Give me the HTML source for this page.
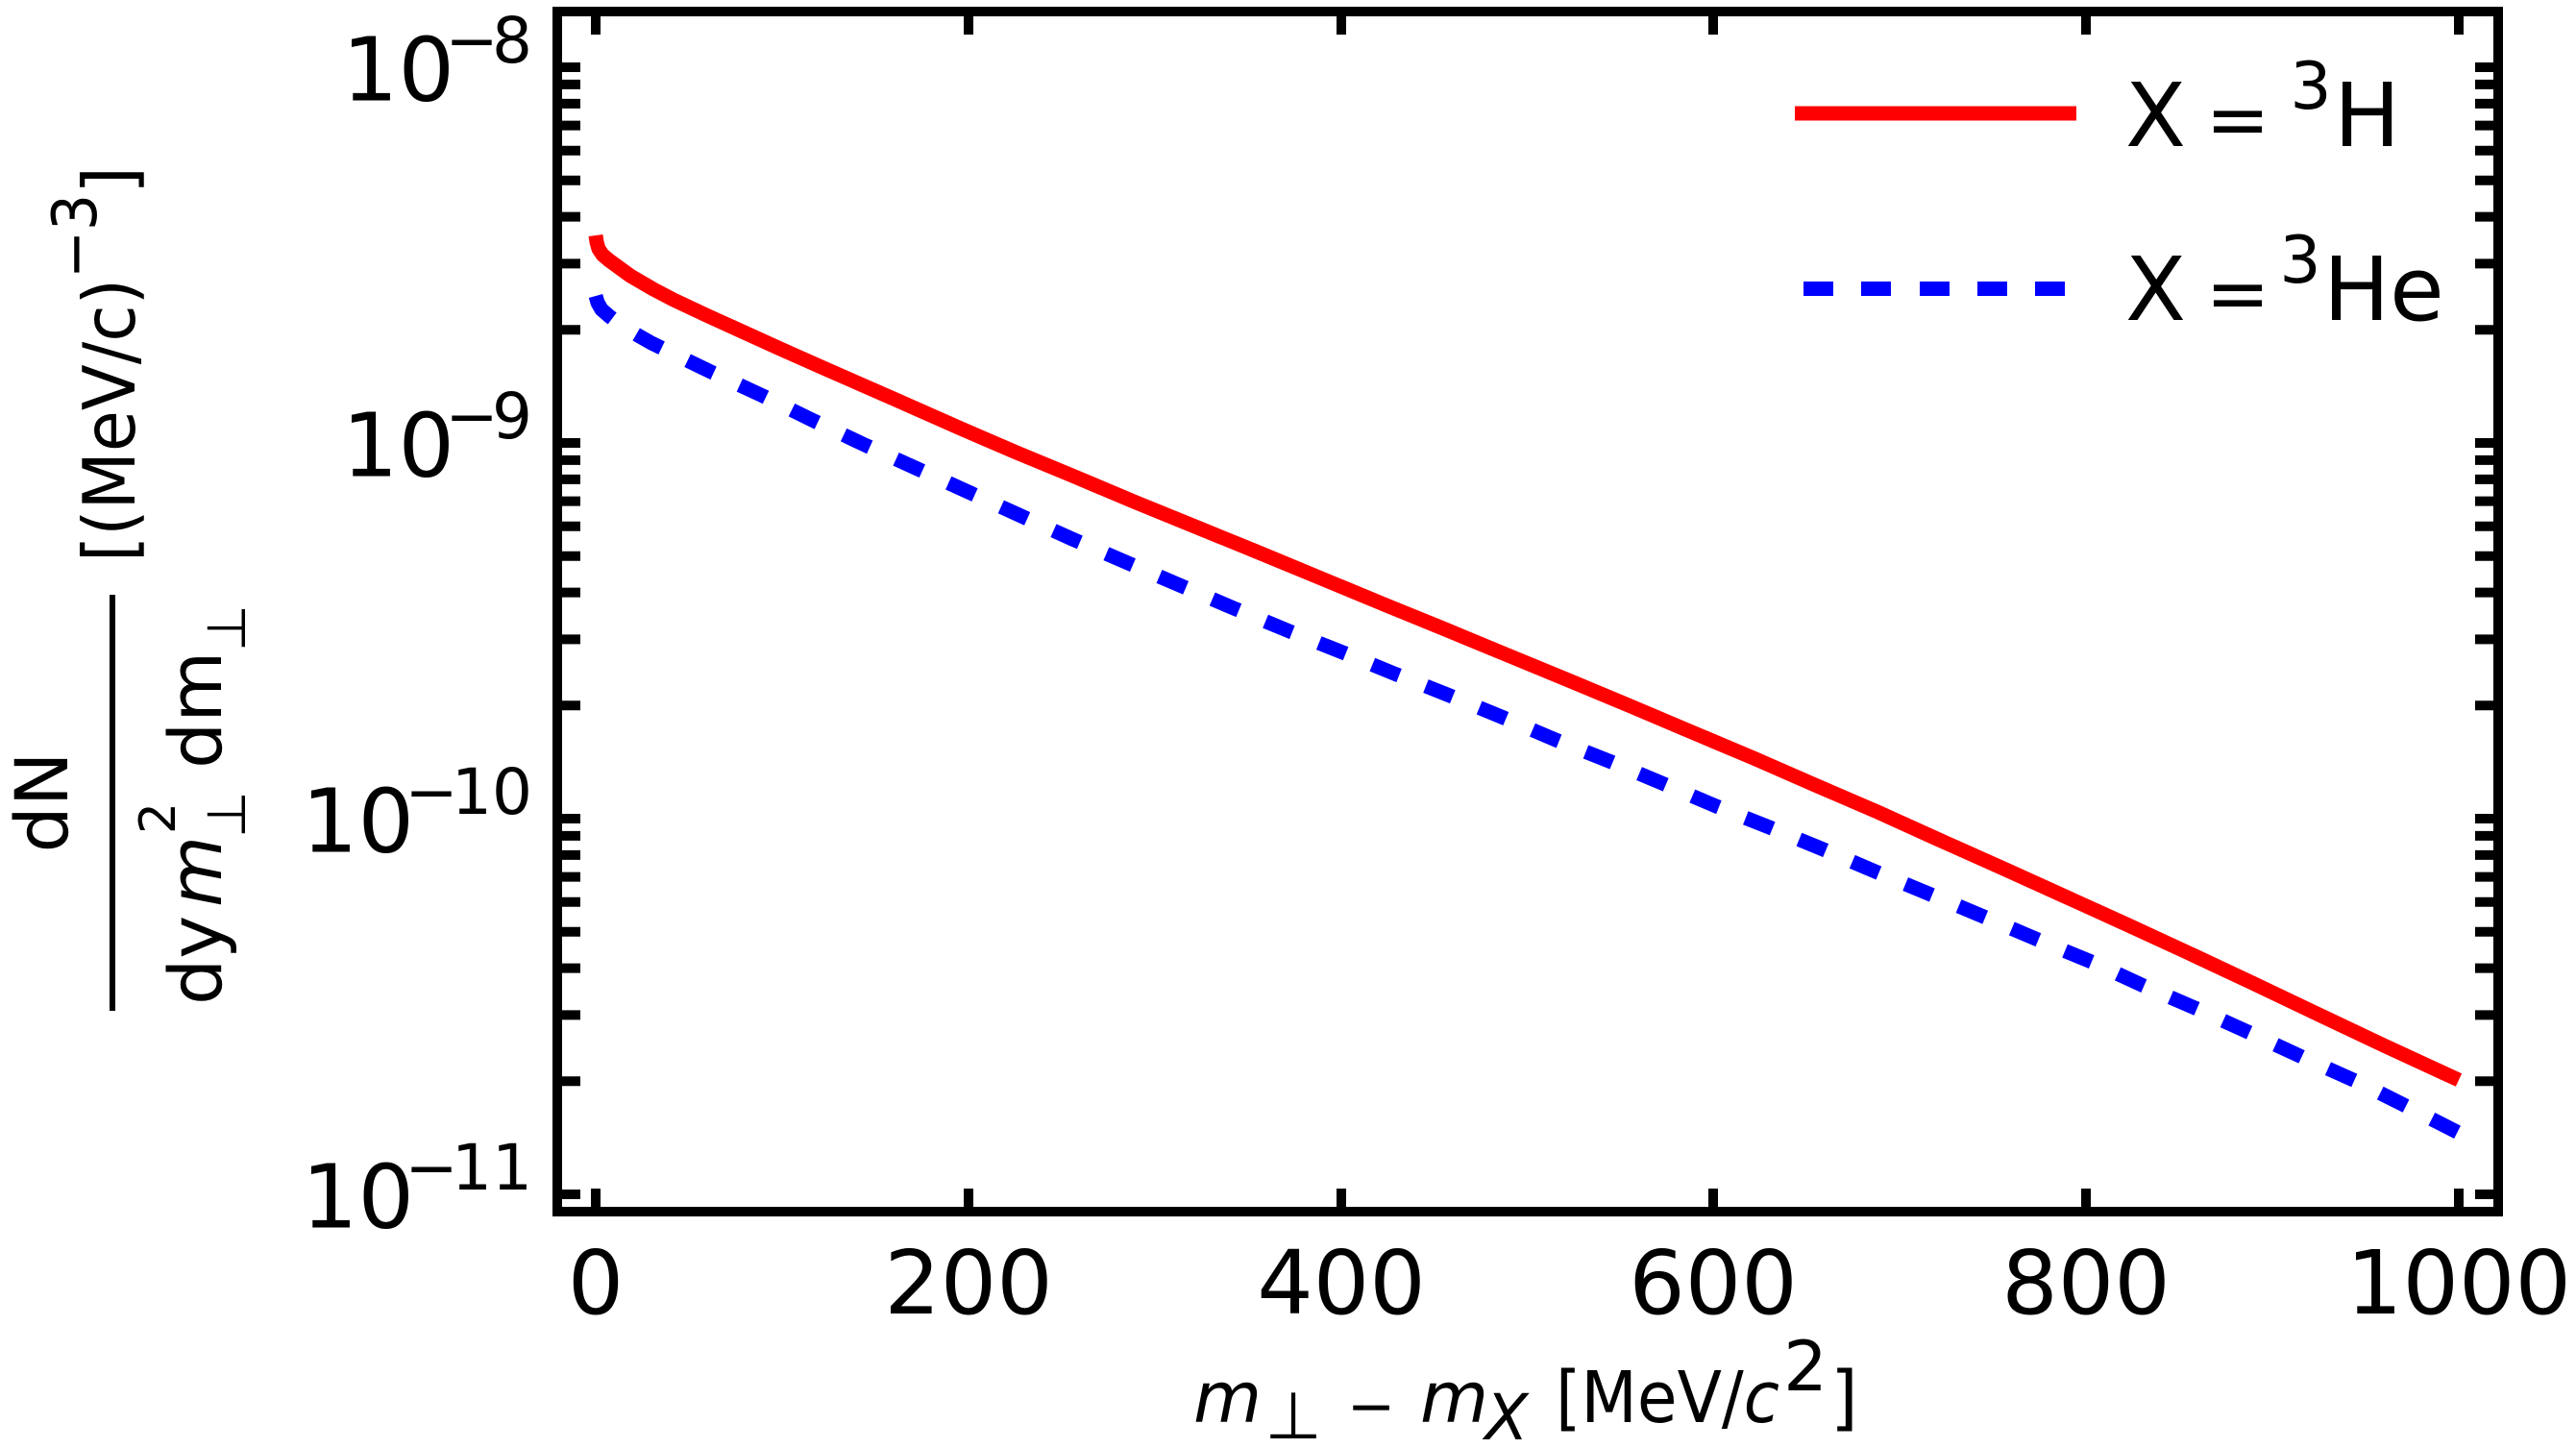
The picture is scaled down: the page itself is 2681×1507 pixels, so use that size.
<!DOCTYPE html>
<html>
<head>
<meta charset="utf-8">
<style>
  html, body { margin: 0; padding: 0; background: #ffffff; }
  svg { display: block; }
  text { font-family: "DejaVu Sans", "Liberation Sans", sans-serif; fill: #000; }
</style>
</head>
<body>
<svg width="2681" height="1507" viewBox="0 0 2681 1507" xmlns="http://www.w3.org/2000/svg">
  <rect x="0" y="0" width="2681" height="1507" fill="#ffffff"/>

  <!-- Data curves -->
  <polyline fill="none" stroke="#ff0000" stroke-width="15" stroke-linejoin="round" stroke-linecap="butt"
    points="620,245 621,252 623,259 627,265 634,271 645,279 656,287 680,301 701,312 735,328 768,343 812,363 857,383 930,415 1000,446 1058,471 1116,495 1180,522 1245,548.5 1310,575 1374,601.5 1438,628 1503,654.5 1567,681 1632,707.8 1696,734.5 1760,761.6 1825,789 1889,817 1954,845 2018,874 2083,903 2147,932 2212,961.5 2276,991 2341,1021.5 2405,1052 2482,1088.5 2559,1124"/>
  <polyline fill="none" stroke="#0000ff" stroke-width="15" stroke-linejoin="round" stroke-linecap="butt" stroke-dasharray="30 30"
    points="620,308 622,315 626,322 634,329 650,341 678,357 742,388 794,412 845,437 900,463 955,488 1010,513 1065,538 1116,561 1174,586 1230,610 1284,633 1342,657 1400,680 1451,701 1509,724 1565,747 1619,770 1677,793 1732,816 1786,839 1844,862 1900,885 1954,908 2012,932 2067,955 2121,978 2179,1002 2231,1026 2289,1051 2344,1076 2398,1101 2456,1127 2508,1153 2559,1179"/>

  <!-- Ticks -->
  <g stroke="#000" stroke-width="10" stroke-linecap="butt">
    <line x1="620" y1="1261" x2="620" y2="1237"/>
    <line x1="1008" y1="1261" x2="1008" y2="1237"/>
    <line x1="1396" y1="1261" x2="1396" y2="1237"/>
    <line x1="1783" y1="1261" x2="1783" y2="1237"/>
    <line x1="2171" y1="1261" x2="2171" y2="1237"/>
    <line x1="2559" y1="1261" x2="2559" y2="1237"/>
    <line x1="620" y1="12" x2="620" y2="36"/>
    <line x1="1008" y1="12" x2="1008" y2="36"/>
    <line x1="1396" y1="12" x2="1396" y2="36"/>
    <line x1="1783" y1="12" x2="1783" y2="36"/>
    <line x1="2171" y1="12" x2="2171" y2="36"/>
    <line x1="2559" y1="12" x2="2559" y2="36"/>
  </g>
  <g id="yt" stroke="#000" stroke-width="10" stroke-linecap="butt">
    <line x1="580" y1="70" x2="604" y2="70"/>
    <line x1="580" y1="87.9" x2="604" y2="87.9"/>
    <line x1="580" y1="107.9" x2="604" y2="107.9"/>
    <line x1="580" y1="130.6" x2="604" y2="130.6"/>
    <line x1="580" y1="156.8" x2="604" y2="156.8"/>
    <line x1="580" y1="187.7" x2="604" y2="187.7"/>
    <line x1="580" y1="225.6" x2="604" y2="225.6"/>
    <line x1="580" y1="274.4" x2="604" y2="274.4"/>
    <line x1="580" y1="343.3" x2="604" y2="343.3"/>
    <line x1="580" y1="461" x2="604" y2="461"/>
    <line x1="580" y1="478.9" x2="604" y2="478.9"/>
    <line x1="580" y1="498.9" x2="604" y2="498.9"/>
    <line x1="580" y1="521.6" x2="604" y2="521.6"/>
    <line x1="580" y1="547.8" x2="604" y2="547.8"/>
    <line x1="580" y1="578.7" x2="604" y2="578.7"/>
    <line x1="580" y1="616.6" x2="604" y2="616.6"/>
    <line x1="580" y1="665.4" x2="604" y2="665.4"/>
    <line x1="580" y1="734.3" x2="604" y2="734.3"/>
    <line x1="580" y1="852" x2="604" y2="852"/>
    <line x1="580" y1="869.9" x2="604" y2="869.9"/>
    <line x1="580" y1="889.9" x2="604" y2="889.9"/>
    <line x1="580" y1="912.6" x2="604" y2="912.6"/>
    <line x1="580" y1="938.8" x2="604" y2="938.8"/>
    <line x1="580" y1="969.7" x2="604" y2="969.7"/>
    <line x1="580" y1="1007.6" x2="604" y2="1007.6"/>
    <line x1="580" y1="1056.4" x2="604" y2="1056.4"/>
    <line x1="580" y1="1125.3" x2="604" y2="1125.3"/>
    <line x1="580" y1="1243" x2="604" y2="1243"/>
  </g>
  <use href="#yt" transform="translate(3180,0) scale(-1,1)"/>

  <!-- Spines -->
  <rect x="580" y="12" width="2020" height="1249" fill="none" stroke="#000" stroke-width="10"/>

  <!-- X tick labels -->
  <g font-size="92" text-anchor="middle">
    <text x="620" y="1367">0</text>
    <text x="1008" y="1367">200</text>
    <text x="1396" y="1367">400</text>
    <text x="1783" y="1367">600</text>
    <text x="2171" y="1367">800</text>
    <text x="2559" y="1367">1000</text>
  </g>

  <!-- Y tick labels -->
  <g>
    <text x="473" y="104.5" font-size="92" text-anchor="end">10</text>
    <text x="491" y="65" font-size="66" text-anchor="middle">−</text>
    <text x="554" y="65" font-size="66" text-anchor="end">8</text>

    <text x="473" y="495.5" font-size="92" text-anchor="end">10</text>
    <text x="491" y="456" font-size="66" text-anchor="middle">−</text>
    <text x="554" y="456" font-size="66" text-anchor="end">9</text>

    <text x="431" y="886.5" font-size="92" text-anchor="end">10</text>
    <text x="449" y="847" font-size="66" text-anchor="middle">−</text>
    <text x="554" y="847" font-size="66" text-anchor="end">10</text>

    <text x="431" y="1277.5" font-size="92" text-anchor="end">10</text>
    <text x="449" y="1238" font-size="66" text-anchor="middle">−</text>
    <text x="554" y="1238" font-size="66" text-anchor="end">11</text>
  </g>

  <!-- Legend -->
  <line x1="1868" y1="118" x2="2161" y2="118" stroke="#ff0000" stroke-width="15"/>
  <g fill="#0000ff">
    <rect x="1877" y="293" width="31" height="15"/>
    <rect x="1937" y="293" width="31" height="15"/>
    <rect x="1998" y="293" width="31" height="15"/>
    <rect x="2058" y="293" width="31" height="15"/>
    <rect x="2118" y="293" width="31" height="15"/>
  </g>
  <text x="2212" y="152" font-size="92">X</text>
  <text x="2329" y="152" font-size="80" text-anchor="middle">=</text>
  <text x="2405" y="113" font-size="68" text-anchor="middle">3</text>
  <text x="2429" y="152" font-size="92">H</text>

  <text x="2212" y="333" font-size="92">X</text>
  <text x="2329" y="333" font-size="80" text-anchor="middle">=</text>
  <text x="2394" y="294" font-size="68" text-anchor="middle">3</text>
  <text x="2418" y="333" font-size="92">He</text>

  <!-- X axis label -->
  <text x="1242" y="1480" font-size="73" font-style="italic">m</text>
  <text x="1346" y="1497" font-size="68" text-anchor="middle">⊥</text>
  <text x="1427" y="1484" font-size="60" text-anchor="middle">−</text>
  <text x="1478" y="1480" font-size="73" font-style="italic">m</text>
  <text x="1568" y="1498" font-size="66" font-style="italic" text-anchor="middle">X</text>
  <text x="1619" y="1480" font-size="74" textLength="233" lengthAdjust="spacingAndGlyphs">[MeV/<tspan font-style="italic">c</tspan></text>
  <text x="1879" y="1447" font-size="72" text-anchor="middle">2</text>
  <text x="1905" y="1480" font-size="74">]</text>

  <!-- Y axis label -->
  <rect x="114" y="619" width="6" height="433" fill="#000"/>
  <g transform="rotate(-90)">
    <text x="-835" y="70" font-size="76" text-anchor="middle">dN</text>
    <text x="-1046" y="230" font-size="76">dy</text>
    <text x="-944" y="230" font-size="76" font-style="italic">m</text>
    <text x="-868" y="182" font-size="52">2</text>
    <text x="-872" y="255" font-size="56">⊥</text>
    <text x="-800" y="230" font-size="76">dm</text>
    <text x="-678" y="255" font-size="56">⊥</text>
    <text x="-585" y="140" font-size="75" textLength="295" lengthAdjust="spacingAndGlyphs">[(MeV/c)</text>
    <text x="-290" y="100" font-size="64" textLength="88" lengthAdjust="spacingAndGlyphs">−3</text>
    <text x="-202" y="140" font-size="75">]</text>
  </g>
</svg>
</body>
</html>
